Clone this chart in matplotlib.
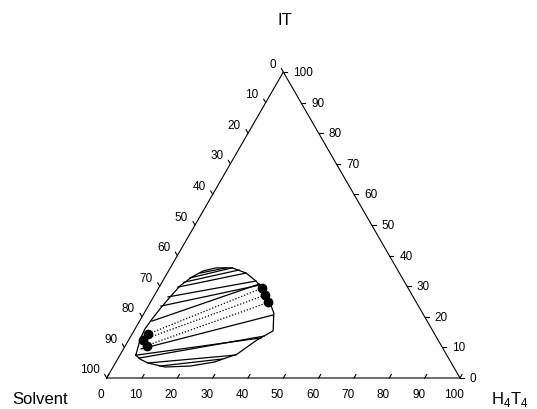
import numpy as np
import matplotlib
matplotlib.use("Agg")
import matplotlib.pyplot as plt

plt.rcParams['font.family'] = ['Liberation Sans', 'DejaVu Sans']
plt.rcParams['mathtext.fontset'] = 'custom'
plt.rcParams['mathtext.rm'] = 'Liberation Sans'

# Axis ticks (mass %)
tick_values = [0, 10, 20, 30, 40, 50, 60, 70, 80, 90, 100]

# Binodal curve (H4T4 %, IT %)
binodal_h4t4 = [4.5, 3.1, 2.8, 3.2, 3.8, 4.7, 5.7, 7.6, 9.8, 13.0, 17.5, 22.3, 26.4,
                29.3, 31.5, 34.0, 36.7, 39.4, 36.3, 33.0, 27.8, 21.6, 14.7, 9.2, 6.3]
binodal_it = [7.5, 12.8, 16.0, 19.3, 22.6, 26.5, 30.1, 33.0, 35.0, 36.0, 36.0, 34.3, 31.7,
              29.4, 27.1, 24.5, 21.2, 15.4, 12.4, 7.8, 5.2, 3.9, 3.6, 4.9, 6.2]

# Calculated tie lines: solvent-rich end and H4T4-rich end
tie_left_h4t4 = [9.3, 7.2, 6.2, 5.3, 4.1, 3.6, 3.5, 5.0, 4.8, 5.9, 9.2, 13.1]
tie_left_it = [34.3, 32.7, 31.3, 29.7, 26.5, 23.5, 18.6, 9.5, 7.5, 6.5, 4.9, 3.9]
tie_right_h4t4 = [15.8, 17.5, 19.8, 22.3, 26.4, 28.2, 27.8, 36.8, 37.1, 37.7, 32.8, 29.5]
tie_right_it = [36.0, 36.0, 35.3, 34.3, 31.7, 30.4, 30.7, 20.6, 13.1, 13.7, 7.5, 6.2]

# Experimental tie lines
exp_left_h4t4 = [4.6, 4.1, 6.0]
exp_left_it = [14.4, 12.5, 10.6]
exp_right_h4t4 = [29.2, 31.3, 33.4]
exp_right_it = [29.3, 27.1, 24.7]

SQ3 = np.sqrt(3) / 2


def to_xy(h4t4, it):
    h = np.asarray(h4t4, dtype=float) / 100.0
    t = np.asarray(it, dtype=float) / 100.0
    return h + t / 2.0, t * SQ3


W, H = 537, 410
SCALE = 353.3          # pixels per unit side
X0, Y0 = 106.7, 379.0  # bottom-left corner in pixels (from top)

fig = plt.figure(figsize=(W / 100, H / 100), dpi=100)
ax = fig.add_axes([0, 0, 1, 1])
ax.set_xlim(-X0 / SCALE, (W - X0) / SCALE)
ax.set_ylim((Y0 - H) / SCALE, Y0 / SCALE)
ax.axis('off')

px = 1.0 / SCALE
lw_axis = 0.8

# Triangle frame
tri_x = [0, 1, 0.5, 0]
tri_y = [0, 0, SQ3, 0]
ax.plot(tri_x, tri_y, color='black', lw=lw_axis, solid_joinstyle='miter')

tick_len = 4 * px
tick_fs = 8.5
for v in tick_values:
    f = v / 100.0
    # bottom axis (H4T4)
    bx, by = f, 0.0
    ax.plot([bx, bx + 0.5 * tick_len], [by, by + SQ3 * tick_len], color='black', lw=lw_axis)
    ax.text(bx - 6 * px, by - 16 * px, str(v), ha='center', va='center', fontsize=tick_fs)
    # right axis (IT)
    rx, ry = to_xy(100 - v, v)
    ax.plot([rx, rx + tick_len], [ry, ry], color='black', lw=lw_axis)
    ax.text(rx + 10 * px, ry, str(v), ha='left', va='center', fontsize=tick_fs)
    # left axis (Solvent)
    lx, ly = to_xy(0, 100 - v)
    ax.plot([lx, lx - 0.5 * tick_len], [ly, ly + SQ3 * tick_len], color='black', lw=lw_axis)
    ax.text(lx - 7 * px, ly + 8.5 * px, str(v), ha='right', va='center', fontsize=tick_fs)

# Vertex titles
ax.text((285 - X0) * px, (Y0 - 21) * px, 'IT', ha='center', va='center', fontsize=12)
ax.text((12 - X0) * px, (Y0 - 400) * px, 'Solvent', ha='left', va='center', fontsize=12)
ax.text((491 - X0) * px, (Y0 - 400) * px, r'H$_4$T$_4$', ha='left', va='center', fontsize=12)

# Binodal curve
bx_, by_ = to_xy(binodal_h4t4 + binodal_h4t4[:1], binodal_it + binodal_it[:1])
ax.plot(bx_, by_, color='black', lw=0.9)

# Calculated tie lines
for hl, il, hr, ir in zip(tie_left_h4t4, tie_left_it, tie_right_h4t4, tie_right_it):
    xs, ys = to_xy([hl, hr], [il, ir])
    ax.plot(xs, ys, color='black', lw=0.9)

# Experimental tie lines with end points
for hl, il, hr, ir in zip(exp_left_h4t4, exp_left_it, exp_right_h4t4, exp_right_it):
    xs, ys = to_xy([hl, hr], [il, ir])
    ax.plot(xs, ys, color='black', lw=0.9, linestyle=(0, (1, 1.5)))
ex, ey = to_xy(exp_left_h4t4 + exp_right_h4t4, exp_left_it + exp_right_it)
ax.plot(ex, ey, 'o', color='black', markersize=6, linestyle='none')

fig.savefig('out.png', dpi=100)
